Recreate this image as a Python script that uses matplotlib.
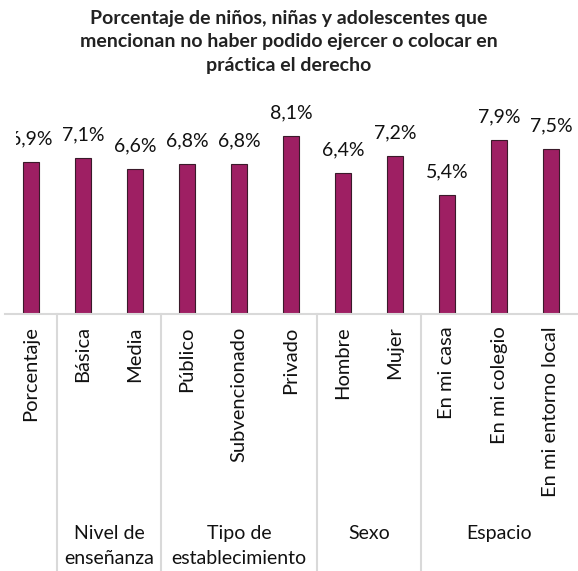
import matplotlib
matplotlib.use("Agg")
import matplotlib.pyplot as plt
import matplotlib.transforms as mtransforms

categories = ["Porcentaje", "Básica", "Media", "Público", "Subvencionado", "Privado",
              "Hombre", "Mujer", "En mi casa", "En mi colegio", "En mi entorno local"]
values = [6.9, 7.1, 6.6, 6.8, 6.8, 8.1, 6.4, 7.2, 5.4, 7.9, 7.5]
value_labels = ["6,9%", "7,1%", "6,6%", "6,8%", "6,8%", "8,1%", "6,4%", "7,2%", "5,4%", "7,9%", "7,5%"]
groups = ["", "Nivel de\nenseñanza", "Tipo de\nestablecimiento", "Sexo", "Espacio"]
group_spans = [(0, 0), (1, 2), (3, 5), (6, 7), (8, 10)]
title = "Porcentaje de niños, niñas y adolescentes que\nmencionan no haber podido ejercer o colocar en\npráctica el derecho"

plt.rcParams['font.family'] = ['Lato', 'DejaVu Sans']

fig = plt.figure(figsize=(5.78, 5.71), dpi=100)
ax = fig.add_axes([5/578, 1 - 314/571, 572/578, 198/571])

x = list(range(len(categories)))
bars = ax.bar(x, values, width=0.31, color="#9E1F63", edgecolor="#3a1a2a", linewidth=0.8)
ax.set_xlim(-0.5, len(categories) - 0.5)
ax.set_ylim(0, 9)

clip_bb = mtransforms.TransformedBbox(mtransforms.Bbox([[16/578, 0], [1, 1]]), fig.transFigure)
for xi, v, lab in zip(x, values, value_labels):
    t = ax.annotate(lab, (xi, v), xytext=(0, 10.5), textcoords="offset points",
                    ha="center", va="bottom", fontsize=14, color="#111111", annotation_clip=False)
    t.set_clip_on(True)
    t.set_clip_box(clip_bb)

ax.set_xticks(x)
ax.set_xticklabels(categories, rotation=90, fontsize=14.5, color="#111111")
ax.tick_params(axis="x", length=0, pad=9)
ax.set_yticks([])
for s in ["top", "left", "right"]:
    ax.spines[s].set_visible(False)
ax.spines["bottom"].set_color("#d9d9d9")
ax.spines["bottom"].set_linewidth(1.5)

trans = mtransforms.blended_transform_factory(ax.transData, fig.transFigure)
bottom_ax = 1 - 314/571
for (a, b), g in zip(group_spans, groups):
    if a > 0:
        ax.plot([a - 0.5, a - 0.5], [bottom_ax, 0], transform=trans, color="#d9d9d9",
                linewidth=1.5, clip_on=False)
    if g:
        fig.text((a + b) / 2, 1 - 525/571, g, transform=trans, ha="center", va="top",
                 fontsize=14, color="#111111", linespacing=1.55)

fig.text(0.5, 1 - 10/571, title, ha="center", va="top", fontsize=14, fontweight="bold",
         color="#222222", linespacing=1.45)

fig.savefig("out.png", dpi=100)
